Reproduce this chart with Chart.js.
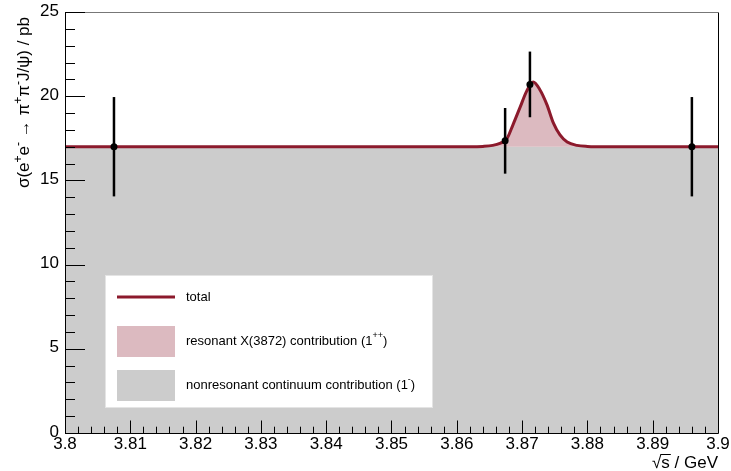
<!DOCTYPE html>
<html>
<head>
<meta charset="utf-8">
<script src="https://cdn.jsdelivr.net/npm/chart.js@4.4.1/dist/chart.umd.min.js"></script>
<style>
  html, body { margin: 0; padding: 0; background: #fff; }
  canvas { display: block; }
</style>
</head>
<body>
<canvas id="xsec" width="731" height="471"></canvas>
<script>
// total cross section curve (continuum + X(3872) peak)
const totalX = [3.800, 3.862, 3.864, 3.8655, 3.8667, 3.8676, 3.8686, 3.8697, 3.8707, 3.8717,
                3.8727, 3.8738, 3.8748, 3.8758, 3.8769, 3.8784, 3.880, 3.883, 3.900];
const totalY = [17.0, 17.0, 17.02, 17.08, 17.22, 17.42, 18.3, 19.35, 20.3, 20.84,
                20.4, 19.5, 18.4, 17.7, 17.28, 17.08, 17.02, 17.0, 17.0];

// nonresonant continuum (flat)
const continuumX = [3.800, 3.900];
const continuumY = [17.0, 17.0];

// measured points with errors
const pointX = [3.8075, 3.8674, 3.8712, 3.8960];
const pointY = [17.0, 17.35, 20.7, 17.0];
const pointErr = [2.95, 1.95, 1.95, 2.95];

// axis ticks
const xTickValues = [3.80, 3.81, 3.82, 3.83, 3.84, 3.85, 3.86, 3.87, 3.88, 3.89, 3.90];
const xTickLabels = ["3.8", "3.81", "3.82", "3.83", "3.84", "3.85", "3.86", "3.87", "3.88", "3.89", "3.9"];
const yTickValues = [0, 5, 10, 15, 20, 25];
const yTickLabels = ["0", "5", "10", "15", "20", "25"];

const RED = "#8c1a2c";
const PINK = "#dcbac0";
const GREY = "#cccccc";
const FONT = "'Liberation Sans', Arial, Helvetica, sans-serif";

function drawRuns(ctx, runs, x0, y0, size) {
    // runs: [text, isSuperscript]
    let cx = x0;
    runs.forEach(([t, sup]) => {
        ctx.font = (sup ? Math.round(size * 0.7) : size) + "px " + FONT;
        ctx.fillText(t, cx, sup ? y0 - size * 0.42 : y0);
        cx += ctx.measureText(t).width;
    });
    return cx;
}

function runsWidth(ctx, runs, size) {
    let w = 0;
    runs.forEach(([t, sup]) => {
        ctx.font = (sup ? Math.round(size * 0.7) : size) + "px " + FONT;
        w += ctx.measureText(t).width;
    });
    return w;
}

const rootFrame = {
    id: "rootFrame",
    afterDatasetsDraw(chart) {
        const { ctx, chartArea: a, scales: { x, y } } = chart;
        ctx.save();

        // error bars
        ctx.strokeStyle = "#000";
        ctx.lineWidth = 2.5;
        pointX.forEach((v, i) => {
            const px = x.getPixelForValue(v);
            ctx.beginPath();
            ctx.moveTo(px, y.getPixelForValue(pointY[i] - pointErr[i]));
            ctx.lineTo(px, y.getPixelForValue(pointY[i] + pointErr[i]));
            ctx.stroke();
        });

        // frame
        ctx.lineWidth = 1;
        ctx.strokeStyle = "#000";
        ctx.beginPath();
        ctx.moveTo(a.left + 0.5, a.top);
        ctx.lineTo(a.left + 0.5, a.bottom + 0.5);
        ctx.lineTo(a.right + 0.5, a.bottom + 0.5);
        ctx.lineTo(a.right + 0.5, a.top);
        ctx.stroke();
        ctx.strokeStyle = "#777";
        ctx.beginPath();
        ctx.moveTo(a.left, a.top + 0.5);
        ctx.lineTo(a.right + 1, a.top + 0.5);
        ctx.stroke();

        // y ticks (inside)
        ctx.strokeStyle = "#000";
        ctx.beginPath();
        for (let v = y.min; v <= y.max + 1e-9; v += 1) {
            const py = Math.round(y.getPixelForValue(v)) + 0.5;
            const len = (Math.round(v) % 5 === 0) ? 20 : 10;
            ctx.moveTo(a.left, py);
            ctx.lineTo(a.left + len, py);
        }
        ctx.stroke();

        // x ticks (inside)
        ctx.beginPath();
        for (let k = 0; k <= 50; k++) {
            const v = x.min + k * 0.002;
            const px = Math.round(x.getPixelForValue(v)) + 0.5;
            const len = (k % 5 === 0) ? 12.5 : 6.3;
            ctx.moveTo(px, a.bottom);
            ctx.lineTo(px, a.bottom - len);
        }
        ctx.stroke();

        // tick labels
        ctx.fillStyle = "#000";
        ctx.font = "17px " + FONT;
        ctx.textAlign = "right";
        ctx.textBaseline = "middle";
        yTickValues.forEach((v, i) => {
            ctx.fillText(yTickLabels[i], a.left - 6, y.getPixelForValue(v) - 1);
        });
        ctx.textAlign = "center";
        ctx.textBaseline = "top";
        xTickValues.forEach((v, i) => {
            ctx.fillText(xTickLabels[i], x.getPixelForValue(v), a.bottom + 3);
        });

        // y title (rotated, aligned to top)
        ctx.textAlign = "left";
        ctx.textBaseline = "alphabetic";
        const yRuns = [["\u03c3(e", 0], ["+", 1], ["e", 0], ["-", 1], [" \u2192 \u03c0", 0], ["+", 1],
                       ["\u03c0", 0], ["-", 1], ["J/\u03c8) / pb", 0]];
        ctx.save();
        ctx.translate(29, 17);
        ctx.rotate(-Math.PI / 2);
        const yw = runsWidth(ctx, yRuns, 17);
        drawRuns(ctx, yRuns, -yw, 0, 17);
        ctx.restore();

        // x title: sqrt(s) / GeV, right aligned
        ctx.font = "17px " + FONT;
        const rest = "s / GeV";
        const wr = ctx.measureText("\u221a").width;
        const wrest = ctx.measureText(rest).width;
        const ws = ctx.measureText("s").width;
        const x0 = a.right - wrest - wr;
        const by = 468;
        ctx.fillText("\u221a", x0, by);
        ctx.fillText(rest, x0 + wr, by);
        ctx.lineWidth = 1;
        ctx.beginPath();
        ctx.moveTo(x0 + wr - 1, by - 13.5);
        ctx.lineTo(x0 + wr + ws + 1, by - 13.5);
        ctx.stroke();

        // legend
        const lx = 105, ly = 275, lw = 327, lh = 132;
        ctx.fillStyle = "#fff";
        ctx.fillRect(lx, ly, lw, lh);
        ctx.strokeStyle = "#e4e4e4";
        ctx.strokeRect(lx + 0.5, ly + 0.5, lw, lh);

        ctx.strokeStyle = RED;
        ctx.lineWidth = 3;
        ctx.beginPath();
        ctx.moveTo(117, 297);
        ctx.lineTo(175, 297);
        ctx.stroke();
        ctx.fillStyle = PINK;
        ctx.fillRect(117, 326, 58, 31);
        ctx.fillStyle = GREY;
        ctx.fillRect(117, 370, 58, 31);

        ctx.fillStyle = "#000";
        ctx.textBaseline = "middle";
        drawRuns(ctx, [["total", 0]], 186, 297, 13);
        const e2 = drawRuns(ctx, [["resonant X(3872) contribution (1", 0], ["++", 1]], 186, 341, 13);
        drawRuns(ctx, [[")", 0]], e2, 341, 13);
        const e3 = drawRuns(ctx, [["nonresonant continuum contribution (1", 0], ["-", 1]], 186, 385, 13);
        drawRuns(ctx, [[")", 0]], e3, 385, 13);

        ctx.restore();
    }
};

const toXY = (xs, ys) => xs.map((v, i) => ({ x: v, y: ys[i] }));

new Chart(document.getElementById("xsec"), {
    type: "scatter",
    data: {
        datasets: [
            {
                label: "measured",
                data: toXY(pointX, pointY),
                pointRadius: 3.5,
                pointBackgroundColor: "#000",
                pointBorderWidth: 0,
                showLine: false,
                order: 1,
            },
            {
                label: "total",
                data: toXY(totalX, totalY),
                showLine: true,
                borderColor: RED,
                borderWidth: 3,
                backgroundColor: PINK,
                fill: { value: 17 },
                pointRadius: 0,
                cubicInterpolationMode: "monotone",
                order: 2,
            },
            {
                label: "continuum",
                data: toXY(continuumX, continuumY),
                showLine: true,
                borderWidth: 0,
                borderColor: GREY,
                backgroundColor: GREY,
                fill: "origin",
                pointRadius: 0,
                order: 3,
            },
        ],
    },
    options: {
        responsive: false,
        animation: false,
        devicePixelRatio: 1,
        layout: { padding: { left: 65, top: 12, right: 13, bottom: 38 } },
        plugins: {
            legend: { display: false },
            tooltip: { enabled: false },
        },
        scales: {
            x: { type: "linear", min: 3.8, max: 3.9, display: false },
            y: { type: "linear", min: 0, max: 25, display: false },
        },
    },
    plugins: [rootFrame],
});
</script>
</body>
</html>
